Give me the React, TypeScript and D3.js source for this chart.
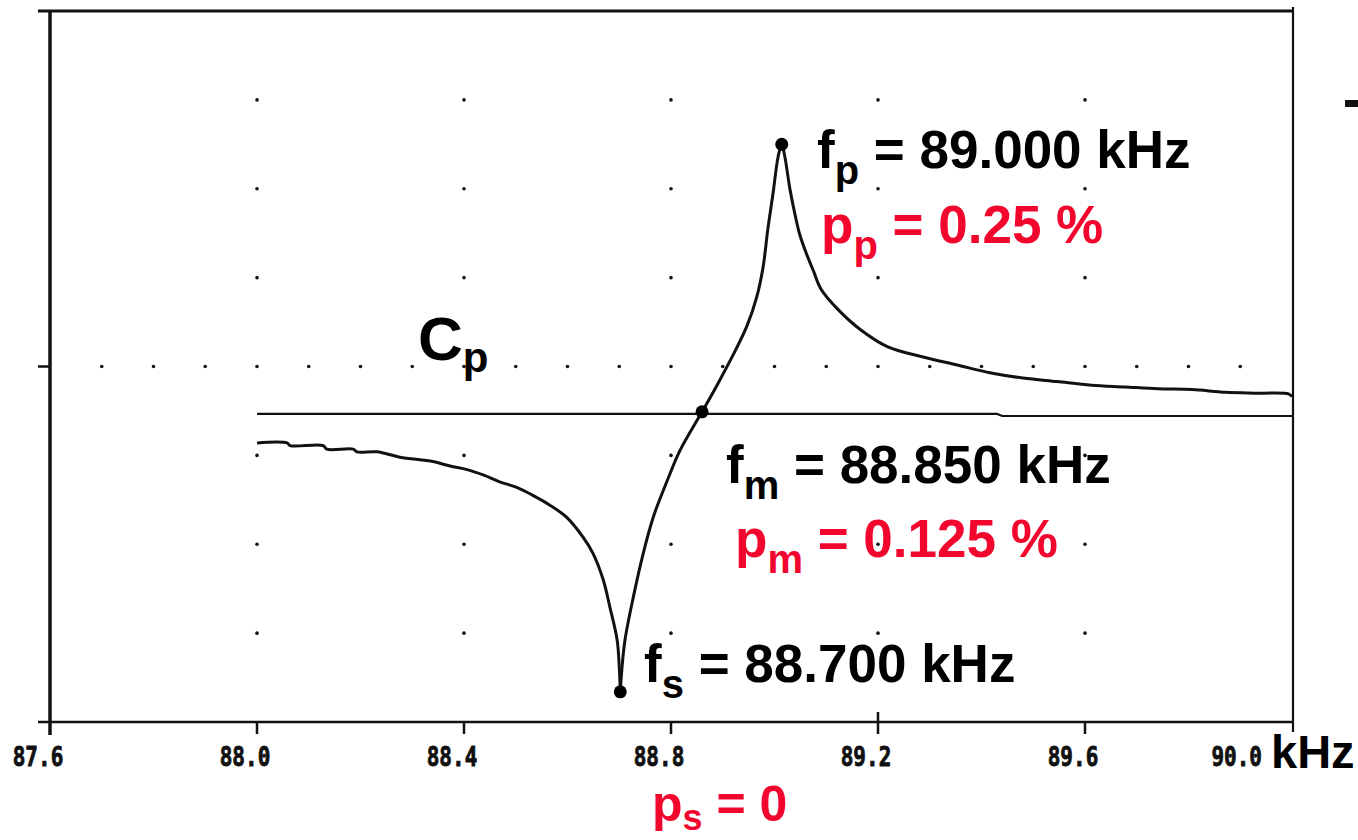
import React from "react";
import * as d3 from "d3";

// ---- data ----
const freqTicks = [87.6, 88.0, 88.4, 88.8, 89.2, 89.6, 90.0];
const tickLabels = ["87.6", "88.0", "88.4", "88.8", "89.2", "89.6", "90.0"];
const gridCols = [88.0, 88.4, 88.8, 89.2, 89.6];
const gridRows = [1, 2, 3, 5, 6, 7];
const centerRow = 4;
const centerRowFreqs = [87.7, 87.8, 87.9, 88.0, 88.1, 88.2, 88.3, 88.4, 88.5, 88.6, 88.7, 88.8, 88.9, 89.0, 89.1, 89.2, 89.3, 89.4, 89.5, 89.6, 89.7, 89.8, 89.9];

// Cp reference line
const cpFreq = [88.0, 89.43, 89.44, 90.0];
const cpValue = [3.466, 3.466, 3.443, 3.443];

// measured curve (left branch, rising branch, falling tail)
const leftFreq = [
  88.0, 88.058, 88.064, 88.128, 88.135, 88.186, 88.193, 88.232, 88.276, 88.34,
  88.373, 88.406, 88.437, 88.47, 88.502, 88.533, 88.566, 88.599, 88.63, 88.649,
  88.669, 88.682, 88.696, 88.7, 88.702,
];
const leftValue = [
  3.14, 3.14, 3.11, 3.11, 3.07, 3.07, 3.04, 3.04, 2.98, 2.93,
  2.88, 2.84, 2.78, 2.7, 2.64, 2.55, 2.44, 2.3, 2.08, 1.9,
  1.6, 1.29, 0.92, 0.62, 0.34,
];
const rightFreq = [
  88.702, 88.705, 88.711, 88.727, 88.746, 88.766, 88.793, 88.817, 88.86, 88.889, 88.92,
  88.947, 88.966, 88.978, 88.987, 88.997, 89.007, 89.014,
  89.02, 89.03, 89.04, 89.049, 89.063, 89.075, 89.09, 89.123, 89.167, 89.219,
  89.285, 89.351, 89.416, 89.48, 89.546, 89.612, 89.677, 89.741, 89.807, 89.872,
  89.938, 89.994, 90.0,
];
const rightValue = [
  0.34, 0.59, 0.92, 1.4, 1.89, 2.31, 2.72, 3.05, 3.49, 3.79, 4.13,
  4.46, 4.79, 5.12, 5.54, 5.94, 6.36, 6.5,
  6.36, 5.99, 5.7, 5.48, 5.25, 5.08, 4.87, 4.64, 4.41, 4.22,
  4.11, 4.02, 3.93, 3.87, 3.83, 3.79, 3.77, 3.75, 3.74, 3.71,
  3.7, 3.69, 3.66,
];

// marked points: fs, fm, fp
const markerFreq = [88.702, 88.86, 89.014];
const markerValue = [0.34, 3.49, 6.5];

const RED = "#f2062e";

export default function App() {
  const x = d3.scaleLinear().domain([87.6, 90.0]).range([50, 1292]);
  const y = d3.scaleLinear().domain([0, 8]).range([722, 11]);

  const leftPts: [number, number][] = leftFreq.map((f, i) => [f, leftValue[i]]);
  const rightPts: [number, number][] = rightFreq.map((f, i) => [f, rightValue[i]]);
  const cpPts: [number, number][] = cpFreq.map((f, i) => [f, cpValue[i]]);
  const smooth = d3
    .line<[number, number]>()
    .x((d) => x(d[0]))
    .y((d) => y(d[1]))
    .curve(d3.curveCatmullRom.alpha(0.5));
  const straight = d3
    .line<[number, number]>()
    .x((d) => x(d[0]))
    .y((d) => y(d[1]));

  const x0 = x(87.6);
  const x1 = x(90.0);
  const yTop = y(8);
  const yBot = y(0);

  const mainFont = "'Liberation Sans', Arial, Helvetica, sans-serif";
  const tickFont = "'DejaVu Sans Mono', 'Liberation Mono', monospace";

  return (
    <svg
      width={1358}
      height={840}
      style={{ position: "absolute", left: 0, top: 0, background: "#fff" }}
    >
      <rect x={0} y={0} width={1358} height={840} fill="#fff" />

      {/* grid dots */}
      {gridRows.map((r) =>
        gridCols.map((c) => (
          <circle key={`g${r}-${c}`} cx={x(c)} cy={y(r)} r={1.8} fill="#111" />
        ))
      )}
      {centerRowFreqs.map((f) => (
        <circle key={`c${f}`} cx={x(f)} cy={y(centerRow)} r={1.8} fill="#111" />
      ))}

      {/* frame */}
      <line x1={x0 - 12} x2={x1 + 1} y1={yTop} y2={yTop} stroke="#111" strokeWidth={3} />
      <line x1={x0} x2={x0} y1={yTop} y2={yBot + 13} stroke="#111" strokeWidth={3.5} />
      <line x1={x0 - 12} x2={x1 + 1} y1={yBot} y2={yBot} stroke="#111" strokeWidth={2.5} />
      <line x1={x1 + 1} x2={x1 + 1} y1={yTop - 4} y2={yBot + 10} stroke="#111" strokeWidth={2.2} />
      <line x1={x0 - 12} x2={x0} y1={y(centerRow)} y2={y(centerRow)} stroke="#111" strokeWidth={2.5} />
      <rect x={1345} y={100} width={13} height={7} fill="#111" />

      {/* x ticks */}
      {freqTicks.slice(1, -1).map((t) => (
        <line
          key={`t${t}`}
          x1={x(t)}
          x2={x(t)}
          y1={t === 89.2 ? yBot - 10 : yBot}
          y2={yBot + 12}
          stroke="#111"
          strokeWidth={2.5}
        />
      ))}
      {tickLabels.map((lab, i) => {
        const last = i === tickLabels.length - 1;
        const tx = last ? x(freqTicks[i]) - 30 : x(freqTicks[i]) - 12;
        return (
          <text
            key={`l${lab}`}
            transform={`translate(${tx},766) scale(1,1.3)`}
            textAnchor={last ? "end" : "middle"}
            fontFamily={tickFont}
            fontWeight="bold"
            fontSize={21}
            fill="#111"
            stroke="#111"
            strokeWidth={0.7}
          >
            {lab}
          </text>
        );
      })}
      <text x={1271} y={768} fontFamily={mainFont} fontWeight="bold" fontSize={47} fill="#000">
        kHz
      </text>

      {/* Cp line and curve */}
      <path d={straight(cpPts) || ""} fill="none" stroke="#111" strokeWidth={2.2} />
      <path d={smooth(leftPts) || ""} fill="none" stroke="#111" strokeWidth={3} strokeLinejoin="round" />
      <path d={smooth(rightPts) || ""} fill="none" stroke="#111" strokeWidth={3} strokeLinejoin="round" />
      {markerFreq.map((f, i) => (
        <circle key={`m${i}`} cx={x(f)} cy={y(markerValue[i])} r={6.5} fill="#000" />
      ))}

      {/* annotations */}
      <text x={418} y={360} fontFamily={mainFont} fontWeight="bold" fontSize={62} fill="#000">
        C<tspan fontSize={42} dy={12}>p</tspan>
      </text>

      <text x={817} y={168} fontFamily={mainFont} fontWeight="bold" fontSize={53} fill="#000">
        f<tspan fontSize={40} dy={16}>p</tspan>
        <tspan dy={-16}> = 89.000 kHz</tspan>
      </text>
      <text x={821} y={243} fontFamily={mainFont} fontWeight="bold" fontSize={53} fill={RED}>
        p<tspan fontSize={40} dy={16}>p</tspan>
        <tspan dy={-16}> = 0.25 %</tspan>
      </text>

      <text x={726} y={483} fontFamily={mainFont} fontWeight="bold" fontSize={53} fill="#000">
        f<tspan fontSize={40} dy={16}>m</tspan>
        <tspan dy={-16}> = 88.850 kHz</tspan>
      </text>
      <text x={735} y={557} fontFamily={mainFont} fontWeight="bold" fontSize={53} fill={RED}>
        p<tspan fontSize={40} dy={16}>m</tspan>
        <tspan dy={-16}> = 0.125 %</tspan>
      </text>

      <text x={644} y={682} fontFamily={mainFont} fontWeight="bold" fontSize={53} fill="#000">
        f<tspan fontSize={40} dy={16}>s</tspan>
        <tspan dy={-16}> = 88.700 kHz</tspan>
      </text>
      <text x={652} y={821} fontFamily={mainFont} fontWeight="bold" fontSize={50} fill={RED}>
        p<tspan fontSize={36} dy={9}>s</tspan>
        <tspan dy={-9}> = 0</tspan>
      </text>
    </svg>
  );
}
